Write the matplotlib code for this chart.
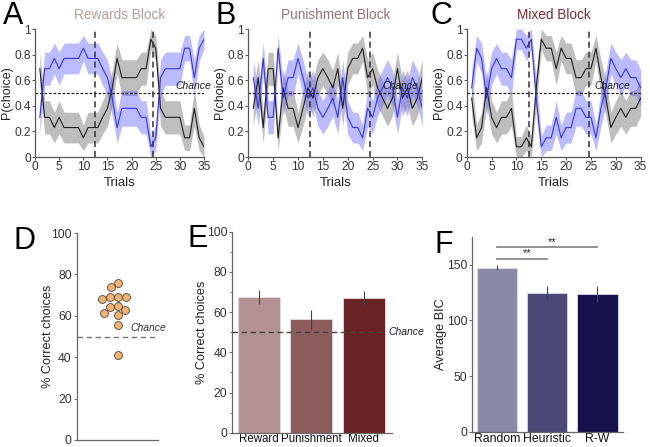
import numpy as np
import matplotlib
matplotlib.use('Agg')
import matplotlib.pyplot as plt
from matplotlib.ticker import MultipleLocator

plt.rcParams['font.family'] = ['Liberation Sans', 'DejaVu Sans']

# ---------------- data ----------------
trials = list(range(1, 36))
block_switches = [12.5, 24.5]

blue_A = [0.31, 0.69, 0.69, 0.77, 0.69, 0.77, 0.77, 0.77, 0.77, 0.85, 0.77, 0.77, 0.77, 0.69, 0.62, 0.46, 0.23, 0.38,
          0.38, 0.38, 0.38, 0.31, 0.31, 0.08, 0.15, 0.62, 0.69, 0.69, 0.69, 0.69, 0.85, 0.85, 0.62, 0.85, 0.92]
black_A = [0.69, 0.31, 0.31, 0.23, 0.31, 0.23, 0.23, 0.23, 0.23, 0.15, 0.23, 0.23, 0.23, 0.31, 0.38, 0.54, 0.77, 0.62,
           0.62, 0.62, 0.62, 0.69, 0.69, 0.92, 0.85, 0.38, 0.31, 0.31, 0.31, 0.31, 0.15, 0.15, 0.38, 0.15, 0.08]
sem_A = [0.13, 0.13, 0.13, 0.12, 0.13, 0.12, 0.12, 0.12, 0.12, 0.10, 0.12, 0.12, 0.12, 0.13, 0.14, 0.14, 0.12, 0.14,
         0.14, 0.14, 0.14, 0.13, 0.13, 0.08, 0.10, 0.14, 0.13, 0.13, 0.13, 0.13, 0.10, 0.10, 0.14, 0.10, 0.08]

blue_B = [0.62, 0.38, 0.77, 0.31, 0.31, 0.85, 0.46, 0.62, 0.62, 0.77, 0.62, 0.46, 0.54, 0.38, 0.31, 0.38, 0.46, 0.31,
          0.62, 0.31, 0.23, 0.23, 0.15, 0.38, 0.31, 0.46, 0.54, 0.62, 0.54, 0.31, 0.54, 0.46, 0.62, 0.54, 0.38]
black_B = [0.38, 0.62, 0.23, 0.69, 0.69, 0.15, 0.54, 0.38, 0.38, 0.23, 0.38, 0.54, 0.46, 0.62, 0.69, 0.62, 0.54, 0.69,
           0.38, 0.69, 0.77, 0.77, 0.85, 0.62, 0.69, 0.54, 0.46, 0.38, 0.46, 0.69, 0.46, 0.54, 0.38, 0.46, 0.62]
sem_B = [0.14, 0.14, 0.12, 0.13, 0.13, 0.10, 0.14, 0.14, 0.14, 0.12, 0.14, 0.14, 0.14, 0.14, 0.13, 0.14, 0.14, 0.13,
         0.14, 0.13, 0.12, 0.12, 0.10, 0.14, 0.13, 0.14, 0.14, 0.14, 0.14, 0.13, 0.14, 0.14, 0.14, 0.14, 0.14]

blue_C = [0.54, 0.85, 0.77, 0.46, 0.69, 0.77, 0.69, 0.69, 0.62, 0.92, 0.92, 0.85, 0.92, 0.46, 0.08, 0.15, 0.15, 0.31,
          0.15, 0.23, 0.23, 0.38, 0.38, 0.31, 0.31, 0.15, 0.38, 0.54, 0.77, 0.69, 0.62, 0.69, 0.62, 0.62, 0.54]
black_C = [0.46, 0.15, 0.23, 0.54, 0.31, 0.23, 0.31, 0.31, 0.38, 0.08, 0.08, 0.15, 0.08, 0.54, 0.92, 0.85, 0.85, 0.69,
           0.85, 0.77, 0.77, 0.62, 0.62, 0.69, 0.69, 0.85, 0.62, 0.46, 0.23, 0.31, 0.38, 0.31, 0.38, 0.38, 0.46]
sem_C = [0.14, 0.10, 0.12, 0.14, 0.13, 0.12, 0.13, 0.13, 0.14, 0.08, 0.08, 0.10, 0.08, 0.14, 0.08, 0.10, 0.10, 0.13,
         0.10, 0.12, 0.12, 0.14, 0.14, 0.13, 0.13, 0.10, 0.14, 0.14, 0.12, 0.13, 0.14, 0.13, 0.14, 0.14, 0.14]

block_titles = ['Rewards Block', 'Punishment Block', 'Mixed Block']
title_colors = ['#b89a9c', '#9a7072', '#7a2a2c']

subject_correct = [75.8, 73.7, 68.0, 68.9, 68.9, 68.9, 64.8, 64.2, 62.6, 61.3, 60.5, 55.6, 41.1]

cond_labels = ['Reward', 'Punishment', 'Mixed']
cond_means = [67.5, 56.4, 66.8]
cond_errs = [3.6, 4.6, 3.6]
cond_colors = ['#b39192', '#8d5d5d', '#6a2426']

model_labels = ['Random', 'Heuristic', 'R-W']
model_bic = [147.0, 124.6, 123.7]
model_errs = [2.2, 6.5, 6.8]
model_colors = ['#8a89a8', '#4b4877', '#16124b']
sig_pairs = [(0, 1), (0, 2)]
sig_heights = [155.3, 165.4]
sig_labels = ['**', '**']

chance = 0.5
chance_pct = 50

# ---------------- figure ----------------
W, H = 650, 447
fig = plt.figure(figsize=(W / 100, H / 100), dpi=100)


def rect(l, r, b, t):
    return [l / W, 1 - b / H, (r - l) / W, (b - t) / H]


tick_col = '#333333'


def top_panel(r, blue, black, sem, title, tcol, chance_x):
    ax = fig.add_axes(r)
    b = np.array(blue)
    k = np.array(black)
    s = np.array(sem)
    ax.fill_between(trials, k - s, k + s, color='#8a8a8a', alpha=0.55, lw=0)
    ax.fill_between(trials, b - s, b + s, color='#6a6aff', alpha=0.45, lw=0)
    ax.plot(trials, k, color='#202020', lw=0.8)
    ax.plot(trials, b, color='#3535e8', lw=0.8)
    ax.axhline(chance, color='#222222', ls=(0, (2.2, 1.4)), lw=0.9)
    for v in block_switches:
        ax.axvline(v, color='#333333', ls=(0, (4, 2.5)), lw=1.1)
    ax.set_xlim(0, 35)
    ax.set_ylim(0, 1)
    ax.set_xticks(range(0, 36, 5))
    ax.set_yticks([0, 0.2, 0.4, 0.6, 0.8, 1])
    ax.set_yticklabels(['0', '0.2', '0.4', '0.6', '0.8', '1'])
    for sp in ['top', 'right']:
        ax.spines[sp].set_visible(False)
    for sp in ['left', 'bottom']:
        ax.spines[sp].set_color('#555555')
        ax.spines[sp].set_linewidth(0.9)
    ax.tick_params(direction='out', length=2.0, width=0.7, colors='#555555', labelsize=8.6,
                   labelcolor=tick_col, pad=1.0)
    ax.set_xlabel('Trials', fontsize=9.5, color='#222222', labelpad=3)
    ax.set_ylabel('P(choice)', fontsize=9, color='#222222')
    wpx = r[2] * W
    ax.yaxis.set_label_coords(-22.0 / wpx, 0.5)
    ax.text(chance_x, chance + 0.015, 'Chance', fontsize=7.5, style='italic', color='#222222',
            va='bottom', ha='left')
    bb = ax.get_position()
    fig.text((bb.x0 + bb.x1) / 2, 1 - 15 / H, title, color=tcol, fontsize=9.8, ha='center', va='center')
    return ax


top_panel(rect(35, 204, 157, 29), blue_A, black_A, sem_A, block_titles[0], title_colors[0], 29.0)
top_panel(rect(248.3, 422.3, 157, 29), blue_B, black_B, sem_B, block_titles[1], title_colors[1], 27.0)
top_panel(rect(466.7, 640.7, 157, 29), blue_C, black_C, sem_C, block_titles[2], title_colors[2], 25.6)

letters = [('A', 3, 16), ('B', 216, 16), ('C', 431, 16), ('D', 13, 241), ('E', 187, 239), ('F', 435, 245)]
for L, x, y in letters:
    fig.text(x / W, 1 - y / H, L, fontsize=22, ha='left', va='center', color='black')


def style_bottom(ax):
    for sp in ['top', 'right']:
        ax.spines[sp].set_visible(False)
    for sp in ['left', 'bottom']:
        ax.spines[sp].set_color('#666666')
        ax.spines[sp].set_linewidth(0.9)
    ax.tick_params(direction='out', length=2.2, width=0.7, colors='#666666', labelsize=8.8,
                   labelcolor=tick_col, pad=1.5)


# ---- D ----
rD = rect(77, 158, 440, 233)
axD = fig.add_axes(rD)
axD.set_xlim(0, 1)
axD.set_ylim(0, 100)
# simple beeswarm computed in pixel space
px_x = rD[2] * W
px_y = rD[3] * H / 100.0
sep = 8.0
placed = []
order = np.argsort(subject_correct)[::-1]
xs = np.zeros(len(subject_correct))
cands = sorted(np.arange(-40, 40.01, 0.5), key=lambda v: (abs(v), v))
for i in order:
    yp = subject_correct[i] * px_y
    for c in cands:
        if all((c - px) ** 2 + (yp - py) ** 2 >= sep ** 2 for px, py in placed):
            placed.append((c, yp))
            xs[i] = 0.5 + c / px_x
            break
axD.axhline(chance_pct, xmin=0, xmax=0.99, color='#777777', ls=(0, (4, 2.5)), lw=1.0)
axD.scatter(xs, subject_correct, s=32, color='#f6b26b', edgecolor='#444444', linewidth=0.6, zorder=3)
axD.text(0.66, chance_pct + 1.5, 'Chance', fontsize=7.5, style='italic', color='#333333', va='bottom')
axD.set_yticks(range(0, 101, 20))
axD.set_xticks([])
style_bottom(axD)
axD.set_ylabel('% Correct choices', fontsize=9.2, color='#222222')
axD.yaxis.set_label_coords(-0.29, 0.5)

# ---- E ----
axE = fig.add_axes(rect(232.3, 391.7, 432.7, 231.7))
xE = [1, 2, 3]
axE.bar(xE, cond_means, width=0.8, color=cond_colors, edgecolor='#e6dede', linewidth=0.6, zorder=2)
axE.errorbar(xE, cond_means, yerr=cond_errs, fmt='none', ecolor='#444444', elinewidth=0.8, capsize=0, zorder=3)
axE.plot([0.495, 3.41], [chance_pct, chance_pct], color='#444444', ls=(0, (4, 2.5)), lw=1.0, zorder=4)
axE.text(3.46, chance_pct, 'Chance', fontsize=7.5, style='italic', color='#222222', va='center', ha='left',
         clip_on=False)
axE.set_xlim(0.495, 3.53)
axE.set_ylim(0, 100)
axE.set_yticks(range(0, 101, 20))
axE.yaxis.set_minor_locator(MultipleLocator(10))
axE.set_xticks(xE)
axE.set_xticklabels(cond_labels)
style_bottom(axE)
axE.tick_params(which='minor', direction='out', length=1.6, width=0.6, colors='#666666')
axE.tick_params(axis='x', length=0, pad=0.5, labelsize=8.3, labelcolor='#111111')
axE.set_ylabel('% Correct choices', fontsize=9.2, color='#222222')
axE.yaxis.set_label_coords(-0.155, 0.5)

# ---- F ----
axF = fig.add_axes(rect(472.3, 623.3, 432, 236.7))
xF = [1, 2, 3]
axF.bar(xF, model_bic, width=0.81, color=model_colors, edgecolor='#dcdce6', linewidth=0.6, zorder=2)
axF.errorbar(xF, model_bic, yerr=model_errs, fmt='none', ecolor='#444444', elinewidth=0.8, capsize=0, zorder=3)
for (a, b), h, lab in zip(sig_pairs, sig_heights, sig_labels):
    axF.plot([xF[a], xF[b]], [h, h], color='#8a8a8a', lw=1.3)
    axF.text((xF[a] + xF[b]) / 2 + 0.1, h + 0.5, lab, ha='center', va='bottom', fontsize=8, color='#222222')
axF.set_xlim(0.506, 3.52)
axF.set_ylim(0, 175)
axF.set_yticks([0, 50, 100, 150])
axF.set_xticks(xF)
axF.set_xticklabels(model_labels)
style_bottom(axF)
axF.tick_params(axis='x', length=0, pad=0.5, labelsize=8.8, labelcolor='#111111')
axF.set_ylabel('Average BIC', fontsize=9.2, color='#222222')
axF.yaxis.set_label_coords(-0.17, 0.5)

fig.savefig('out.png', dpi=100)
